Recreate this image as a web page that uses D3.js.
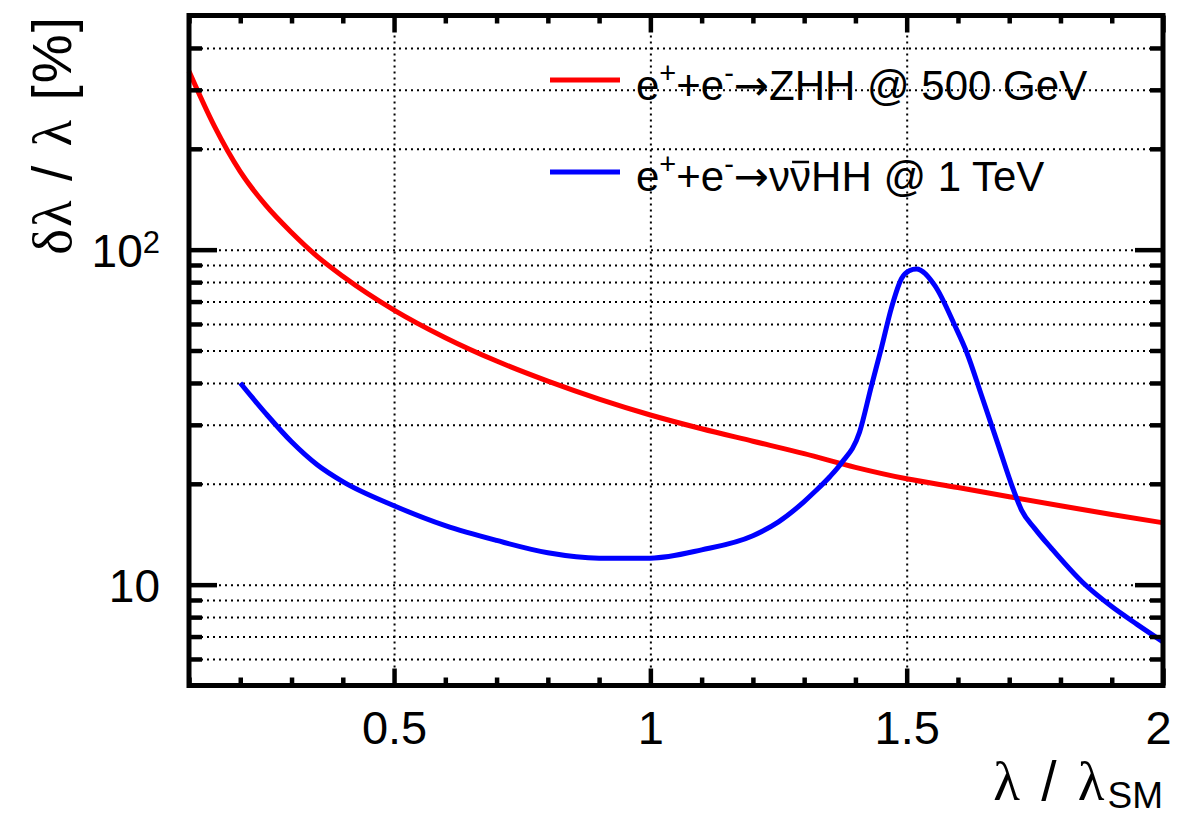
<!DOCTYPE html>
<html>
<head>
<meta charset="utf-8">
<script src="https://cdn.jsdelivr.net/npm/d3@7"></script>
<style>
body { margin: 0; background: #fff; }
text { font-family: "Liberation Sans", Arial, Helvetica, sans-serif; fill: #000; }
</style>
</head>
<body>
<script>
// red curve, e+e- -> ZHH @ 500 GeV
var zhhX = [0.10, 0.15, 0.20, 0.25, 0.30, 0.35, 0.40, 0.50, 0.60, 0.70, 0.80, 0.90, 1.00, 1.10, 1.20, 1.30, 1.40, 1.50, 1.60, 1.70, 1.80, 1.90, 2.00]
var zhhY = [341, 233, 171, 135.5, 112.5, 95.5, 83.3, 66, 54.6, 46.5, 40.5, 35.8, 32.1, 29.2, 26.8, 24.6, 22.4, 20.7, 19.5, 18.3, 17.2, 16.2, 15.3]

// blue curve, e+e- -> nunubar HH @ 1 TeV
var nnhhX = [0.20, 0.25, 0.30, 0.35, 0.40, 0.50, 0.60, 0.70, 0.80, 0.90, 1.00, 1.10, 1.20, 1.25, 1.30, 1.32, 1.35, 1.372, 1.408, 1.431, 1.451, 1.470, 1.490, 1.505, 1.519, 1.555, 1.594, 1.617, 1.646, 1.679, 1.705, 1.724, 1.75, 1.783, 1.842, 1.900, 1.950, 2.00]
var nnhhY = [40, 32.4, 26.7, 22.8, 20.3, 17.2, 15.0, 13.55, 12.45, 12.0, 12.0, 12.7, 14.0, 15.4, 17.7, 18.9, 21.0, 23.0, 28.5, 39.1, 51.1, 66.8, 82, 86.5, 87.5, 78.1, 59.3, 49.4, 36.7, 26.0, 19.8, 16.7, 14.7, 12.8, 10.2, 8.6, 7.6, 6.75]

var seriesNames = ["ZHH", "nnHH"]
var seriesColors = ["#ff0000", "#0000ff"]

var xMajor = [0.5, 1, 1.5, 2]
var xMinor = [0.1, 0.2, 0.3, 0.4, 0.6, 0.7, 0.8, 0.9, 1.1, 1.2, 1.3, 1.4, 1.6, 1.7, 1.8, 1.9]
var yMajor = [10, 100]
var yMinor = [6, 7, 8, 9, 20, 30, 40, 50, 60, 70, 80, 90, 200, 300, 400]

var screen = {width: 1194, height: 819}
var frame = {left: 189, right: 1163, top: 15.5, bottom: 685.5}

var xScale = d3.scaleLinear()
    .domain([0.1, 2.0])
    .range([frame.left, frame.right])

var yScale = d3.scaleLog()
    .domain([5, 500])
    .range([frame.bottom, frame.top])

var svg = d3.select("body")
    .append("svg")
    .attr("width", screen.width)
    .attr("height", screen.height)

var w = frame.right - frame.left
var h = frame.bottom - frame.top

//grid, dotted
svg.append("g")
    .attr("class", "grid")
    .attr("transform", "translate(" + frame.left + ",0)")
    .call(d3.axisLeft(yScale).tickValues(yMajor.concat(yMinor)).tickSize(-w).tickFormat(""))
svg.append("g")
    .attr("class", "grid xgrid")
    .attr("transform", "translate(0," + frame.bottom + ")")
    .call(d3.axisBottom(xScale).tickValues([0.5, 1, 1.5]).tickSize(-h).tickFormat(""))
svg.selectAll(".grid .tick line")
    .attr("stroke", "#000")
    .attr("stroke-width", 2)
    .attr("stroke-dasharray", "2,4")
svg.selectAll(".grid .domain").remove()

// curves
var line = d3.line()
    .x(function(d) { return xScale(d[0]) })
    .y(function(d) { return yScale(d[1]) })
    .curve(d3.curveMonotoneX)

var curves = [d3.zip(zhhX, zhhY), d3.zip(nnhhX, nnhhY)]

svg.append("g")
    .selectAll("path")
    .data(curves)
    .enter()
    .append("path")
    .attr("d", line)
    .attr("fill", "none")
    .attr("stroke", function(d, i) { return seriesColors[i] })
    .attr("stroke-width", 5)
    .attr("stroke-linejoin", "round")

// ticks, all four sides, pointing inward
function tickAxis(axis, tr, cls) {
    svg.append("g")
        .attr("class", "ticks " + (cls || ""))
        .attr("transform", tr)
        .call(axis)
}
tickAxis(d3.axisBottom(xScale).tickValues(xMajor).tickSize(-17).tickPadding(0).tickFormat(d3.format("~g")), "translate(0," + frame.bottom + ")", "xlab")
tickAxis(d3.axisBottom(xScale).tickValues(xMinor).tickSize(-8).tickFormat(""), "translate(0," + frame.bottom + ")")
tickAxis(d3.axisTop(xScale).tickValues(xMajor).tickSize(-17).tickFormat(""), "translate(0," + frame.top + ")")
tickAxis(d3.axisTop(xScale).tickValues(xMinor).tickSize(-8).tickFormat(""), "translate(0," + frame.top + ")")
tickAxis(d3.axisLeft(yScale).tickValues(yMajor).tickSize(-28).tickPadding(29).tickFormat(function(d) { return "10" }), "translate(" + frame.left + ",0)", "ylab")
tickAxis(d3.axisLeft(yScale).tickValues(yMinor).tickSize(-13).tickFormat(""), "translate(" + frame.left + ",0)")
tickAxis(d3.axisRight(yScale).tickValues(yMajor).tickSize(-28).tickFormat(""), "translate(" + frame.right + ",0)")
tickAxis(d3.axisRight(yScale).tickValues(yMinor).tickSize(-13).tickFormat(""), "translate(" + frame.right + ",0)")

svg.selectAll(".ticks .domain").remove()
svg.selectAll(".ticks .tick line")
    .attr("stroke", "#000")
    .attr("stroke-width", 4.5)

svg.selectAll(".xlab .tick text")
    .attr("y", 58.5)
    .attr("dy", 0)
    .style("font-size", "47px")
    .style("font-family", "Liberation Sans, Arial, sans-serif")
svg.selectAll(".xlab .tick text")
    .filter(function(d) { return d == 2 })
    .attr("x", -5)

svg.selectAll(".ylab .tick text")
    .attr("dy", "0.36em")
    .style("font-size", "46px")
    .style("font-family", "Liberation Sans, Arial, sans-serif")
svg.selectAll(".ylab .tick text")
    .filter(function(d) { return d == 100 })
    .append("tspan")
    .attr("dy", "-0.45em")
    .style("font-size", "31px")
    .text("2")

// frame
svg.append("rect")
    .attr("x", frame.left)
    .attr("y", frame.top)
    .attr("width", w)
    .attr("height", h)
    .attr("fill", "none")
    .attr("stroke", "#000")
    .attr("stroke-width", 5)

// axis titles
var greek = "Liberation Serif, serif"
var xt = svg.append("text")
    .attr("x", 1163)
    .attr("y", 800)
    .attr("text-anchor", "end")
    .style("font-size", "55px")
    .style("letter-spacing", "3px")
xt.append("tspan").style("font-family", greek).text("\u03bb")
xt.append("tspan").text(" / ")
xt.append("tspan").style("font-family", greek).text("\u03bb")
xt.append("tspan").attr("dy", 8).style("font-size", "37px").style("letter-spacing", "0px").text("SM")

var yt = svg.append("text")
    .attr("transform", "translate(71,15) rotate(-90)")
    .attr("text-anchor", "end")
    .style("font-size", "55px")
    .style("letter-spacing", "2px")
yt.append("tspan").style("font-family", greek).text("\u03b4\u03bb")
yt.append("tspan").text(" / ")
yt.append("tspan").style("font-family", greek).text("\u03bb")
yt.append("tspan").text(" [%]")

// legend
var legY = [80, 172]
var legend = svg.append("g").attr("id", "legend")
legend.selectAll("line")
    .data(seriesNames)
    .enter()
    .append("line")
    .attr("x1", 550)
    .attr("x2", 620)
    .attr("y1", function(d, i) { return legY[i] })
    .attr("y2", function(d, i) { return legY[i] })
    .attr("stroke", function(d, i) { return seriesColors[i] })
    .attr("stroke-width", 5)

function legText(y) {
    var t = legend.append("text")
        .attr("x", 636)
        .attr("y", y)
        .style("font-size", "42px")
    t.append("tspan").text("e")
    t.append("tspan").attr("dy", -17).style("font-size", "29px").text("+")
    t.append("tspan").attr("dy", 17).text("+e")
    t.append("tspan").attr("dy", -17).style("font-size", "29px").text("-")
    t.append("tspan").attr("dy", 17).style("font-family", "DejaVu Sans").text("\u2192")
    return t
}
var t1 = legText(100)
t1.append("tspan").text("ZHH @ 500 GeV")
var t2 = legText(191)
t2.append("tspan").text("\u03bd\u03bd")
t2.append("tspan").text("HH @ 1 TeV")

// bar over the second nu (char index 7)
var ext = t2.node().getExtentOfChar(7)
legend.append("line")
    .attr("x1", ext.x + 2)
    .attr("x2", ext.x + ext.width - 2)
    .attr("y1", 162)
    .attr("y2", 162)
    .attr("stroke", "#000")
    .attr("stroke-width", 2.5)
</script>
</body>
</html>
